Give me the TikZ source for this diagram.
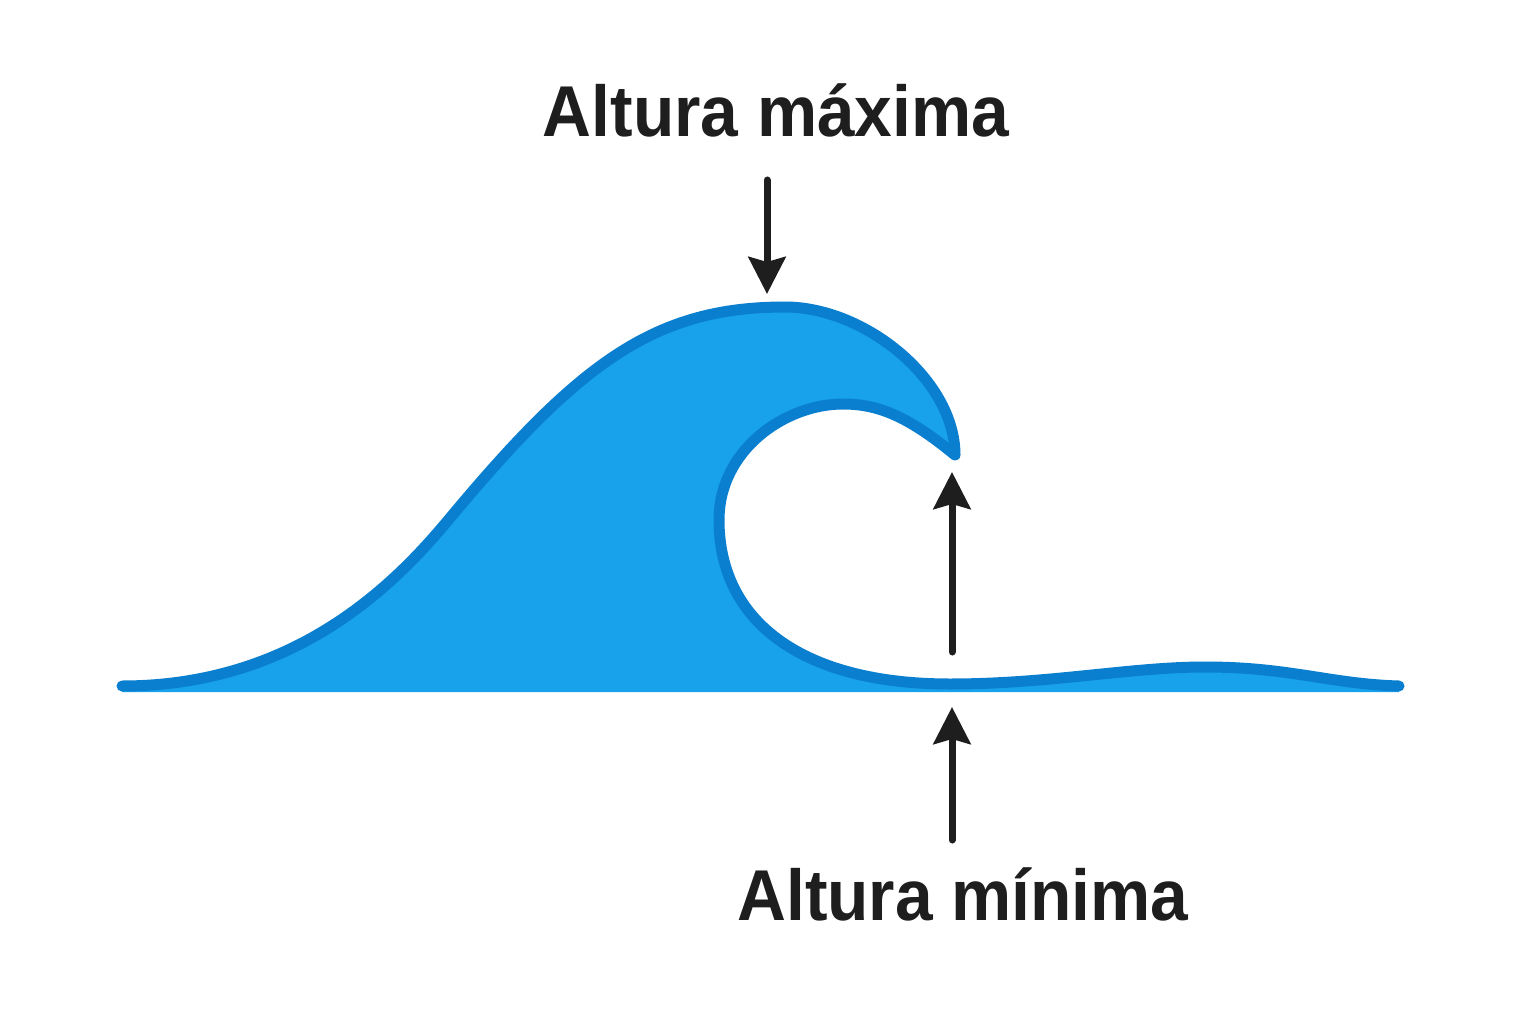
\documentclass[tikz,border=0pt]{standalone}
\usepackage{fontspec}
\setmainfont{Liberation Sans}
\usetikzlibrary{arrows.meta}
\definecolor{wavefillc}{HTML}{18A2EC}
\definecolor{wavelinec}{HTML}{0A7FCF}
\definecolor{inkc}{HTML}{1E1E1E}
\begin{document}
\begin{tikzpicture}[x=1pt,y=-1pt,
  wavefill/.style={fill=wavefillc},
  waveline/.style={draw=wavelinec,line width=11pt,line cap=round,line join=round},
  pointer/.style={draw=inkc,line width=7pt,line cap=round,-{Stealth[length=37pt,width=37pt,inset=5pt]}},
  lbl/.style={font=\fontsize{72}{80}\selectfont\bfseries,text=inkc,inner sep=0pt,anchor=base}]
\useasboundingbox (0,0) rectangle (1536,1024);
\fill[white] (0,0) rectangle (1536,1024);
% wave body
\fill[wavefill] (122,686) .. controls (300,686) and (400,578) .. (450,518)
  .. controls (580,362) and (655,307) .. (785,307)
  .. controls (865,307) and (955,380) .. (955,455)
  .. controls (910,418) and (880,404) .. (843,404)
  .. controls (785,404) and (719,450) .. (719,520)
  .. controls (719,620) and (800,684) .. (950,684)
  .. controls (1050,684) and (1130,667) .. (1205,667)
  .. controls (1290,667) and (1330,684) .. (1399,686)
  -- (1399,692) -- (122,692) -- cycle;
% wave outline
\draw[waveline] (122,686) .. controls (300,686) and (400,578) .. (450,518)
  .. controls (580,362) and (655,307) .. (785,307)
  .. controls (865,307) and (955,380) .. (955,455)
  .. controls (910,418) and (880,404) .. (843,404)
  .. controls (785,404) and (719,450) .. (719,520)
  .. controls (719,620) and (800,684) .. (950,684)
  .. controls (1050,684) and (1130,667) .. (1205,667)
  .. controls (1290,667) and (1330,684) .. (1399,686);
% labels
\node[lbl] (maxlbl) at (776,137) {\scalebox{0.94}[1]{Altura máxima}};
\node[lbl] (minlbl) at (963,920) {\scalebox{0.94}[1]{Altura mínima}};
% arrow anchor points
\coordinate (maxstart) at (767,180);
\coordinate (peak) at (767,294);
\coordinate (midstart) at (952,652);
\coordinate (tip) at (952,472);
\coordinate (lowstart) at (952,840);
\coordinate (trough) at (952,707);
\draw[pointer] (maxstart) -- (peak);
\draw[pointer] (midstart) -- (tip);
\draw[pointer] (lowstart) -- (trough);
\end{tikzpicture}
\end{document}
